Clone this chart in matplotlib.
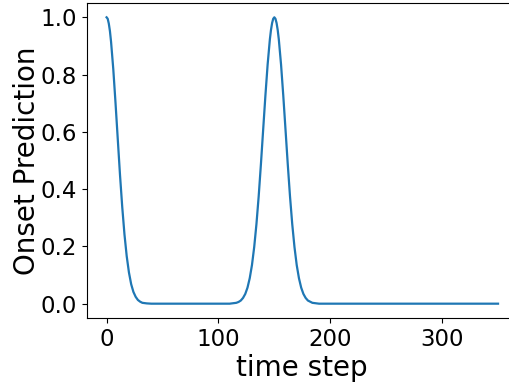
import matplotlib
matplotlib.use("Agg")
import matplotlib.pyplot as plt

time_steps = [0, 1, 2, 3, 4, 6, 8, 10, 12, 14, 16, 18, 20, 22, 24, 26, 28, 30, 32, 34, 36, 40,
              100, 110, 114, 116, 118, 120, 122, 124, 126, 128, 130, 132, 134, 136, 138,
              140, 142, 144, 146, 147, 148, 149, 150, 151, 152, 153, 154, 156, 158, 160,
              162, 164, 166, 168, 170, 172, 174, 176, 178, 180, 184, 186, 190, 200, 350]
onset_pred = [1.0, 0.995, 0.978, 0.952, 0.915, 0.819, 0.701, 0.575, 0.450, 0.338, 0.242,
              0.166, 0.109, 0.068, 0.041, 0.024, 0.013, 0.007, 0.003, 0.002, 0.001, 0.0,
              0.0, 0.0, 0.002, 0.003, 0.006, 0.011, 0.020, 0.034, 0.056, 0.089, 0.135,
              0.198, 0.278, 0.375, 0.487, 0.607, 0.726, 0.835, 0.923, 0.956, 0.980, 0.995,
              1.0, 0.995, 0.980, 0.956, 0.923, 0.835, 0.726, 0.607, 0.487, 0.375, 0.278,
              0.198, 0.135, 0.089, 0.056, 0.034, 0.020, 0.011, 0.003, 0.002, 0.0, 0.0, 0.0]

x_ticks = [0, 100, 200, 300]
y_ticks = [0.0, 0.2, 0.4, 0.6, 0.8, 1.0]

fig = plt.figure(figsize=(5.10, 3.82), dpi=100)
ax = fig.add_axes([87 / 510, (382 - 318) / 382, (517.6 - 87) / 510, (318 - 3) / 382])
ax.plot(time_steps, onset_pred, color="#1f77b4", linewidth=1.6)
ax.set_xticks(x_ticks)
ax.set_yticks(y_ticks)
ax.set_yticklabels([f"{v:.1f}" for v in y_ticks])
ax.tick_params(labelsize=16.5)
ax.set_xlabel("time step", fontsize=20, labelpad=2)
ax.set_ylabel("Onset Prediction", fontsize=20, labelpad=0)
fig.savefig("out.png", dpi=100)
